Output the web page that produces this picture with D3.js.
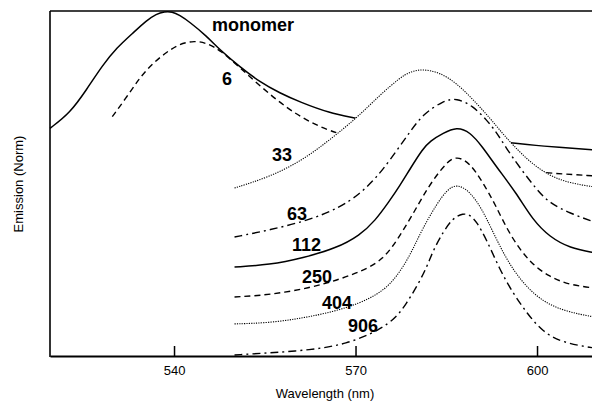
<!DOCTYPE html>
<html>
<head>
<meta charset="utf-8">
<script src="https://cdn.jsdelivr.net/npm/d3@7"></script>
<style>
body{margin:0;background:#fff}
svg{display:block}
.lbl{font-family:"Liberation Sans",Arial,sans-serif;font-weight:bold;font-size:18px}
.tick{font-family:"Liberation Sans",Arial,sans-serif;font-size:13px}
</style>
</head>
<body>
<svg></svg>
<script>
// wavelength (nm), emission (normalized, stacked as drawn)
var monomer=[[519.5,0.66],[522.8,0.704],[525.5,0.771],[528.2,0.843],[530.5,0.893],[533.2,0.936],[535.4,0.972],[537.1,0.992],
 [538.4,0.998],[539.7,0.998],[540.9,0.988],[542.6,0.968],[545.4,0.927],[547.6,0.887],[550.9,0.838],[554.2,0.794],[557.5,0.762],
 [560.8,0.736],[565.7,0.704],[569.9,0.69],[577.3,0.661],[585.6,0.638],[596,0.617],[600.4,0.609],[609.5,0.597]]
var s6=[[529.8,0.694],[532.2,0.751],[534.3,0.806],[536.5,0.849],[538.8,0.881],[540.9,0.905],[543.4,0.914],[545.4,0.907],[547.6,0.887],
 [550.9,0.836],[554.7,0.775],[558.6,0.719],[562.4,0.678],[566.5,0.646],[577.3,0.597],[585.6,0.562],[593.9,0.542],[602.1,0.53],[609.5,0.522]]
var s33=[[550,0.487],[555.8,0.519],[561.3,0.568],[565.7,0.626],[570.2,0.69],[574,0.756],[577.3,0.806],[579,0.824],[581.1,0.832],
 [583.9,0.822],[586.7,0.791],[589.4,0.744],[592.2,0.69],[594.3,0.645],[596,0.612],[598.8,0.562],[602.1,0.522],[605.4,0.501],[609.5,0.49]]
var s63=[[550,0.345],[555.8,0.365],[562.4,0.394],[567.4,0.43],[570.7,0.47],[572.9,0.508],[574.5,0.54],[576.8,0.595],[579,0.65],
 [581.1,0.7],[584.5,0.74],[586.7,0.748],[589.4,0.725],[591.7,0.684],[593.4,0.646],[595,0.6],[597.2,0.545],[600,0.481],
 [602.1,0.443],[605.4,0.414],[609.5,0.388]]
var s112=[[550,0.258],[555.8,0.264],[561.3,0.284],[566.9,0.313],[570.7,0.35],[573.2,0.391],[575.6,0.449],[577.3,0.493],[579,0.542],
 [581.1,0.6],[582.3,0.623],[584.5,0.646],[586.7,0.664],[588.9,0.65],[591,0.606],[593.3,0.548],[596.6,0.472],[599.3,0.394],[602.1,0.345],
 [605.4,0.313],[609.5,0.299]]
var s250=[[550,0.171],[555.8,0.177],[562.4,0.197],[567.4,0.222],[572.3,0.255],[574.5,0.283],[576.1,0.316],[577.8,0.362],[579.5,0.412],
 [581.1,0.462],[582.8,0.51],[585.1,0.562],[586.7,0.58],[588.9,0.56],[591,0.504],[593,0.443],[595.5,0.35],[598.8,0.27],
 [602.1,0.229],[605.4,0.206],[609.5,0.197]]
var s404=[[550,0.093],[555.8,0.096],[561.3,0.11],[566.3,0.128],[570.7,0.153],[573.5,0.178],[575.6,0.205],[577.8,0.255],[579.5,0.31],
 [581.1,0.37],[583.4,0.44],[585.1,0.481],[586.7,0.499],[588.9,0.478],[591,0.423],[592.7,0.36],[595,0.278],[597.6,0.212],
 [600.9,0.157],[604.9,0.128],[609.5,0.113]]
var s906=[[550,0.003],[555.8,0.009],[562.4,0.017],[568.5,0.034],[574,0.075],[576.8,0.113],[578.4,0.152],[580.1,0.2],[581.8,0.258],
 [582.8,0.305],[584.5,0.36],[586.1,0.4],[587.8,0.414],[588.9,0.409],[590,0.39],[591.7,0.336],[593.8,0.252],[596,0.183],
 [598.3,0.125],[600.9,0.07],[604.3,0.038],[609.5,0.023]]

var xTicks=[540,570,600]
var labels=[{t:"monomer",x:212,y:31},{t:"6",x:222,y:85},{t:"33",x:272,y:161},{t:"63",x:287,y:220},
 {t:"112",x:292,y:251},{t:"250",x:302,y:283},{t:"404",x:322,y:309},{t:"906",x:348,y:332}]

var width=592, height=402
var svg=d3.select("svg").attr("width",width).attr("height",height)

var xScale=d3.scaleLinear().domain([519.5,609.5]).range([50,594.5])
var yScale=d3.scaleLinear().domain([0,1]).range([356,11])

var line=d3.line()
    .x(function(d){return xScale(d[0])})
    .y(function(d){return yScale(d[1])})
    .curve(d3.curveBasis)

var area=d3.area()
    .x(function(d){return xScale(d[0])})
    .y0(yScale(0))
    .y1(function(d){return yScale(d[1])})
    .curve(d3.curveBasis)

var drawLine=function(data,dash,w){
    svg.append("path")
        .attr("d",line(data))
        .attr("fill","none")
        .attr("stroke","#000")
        .attr("stroke-width",w)
        .attr("stroke-dasharray",dash)
}

drawLine(monomer,null,1.5)
drawLine(s6,"6,4",1.4)

// the 33 curve hides what lies below it
svg.append("path")
    .attr("d",area(s33))
    .attr("fill","#fff")
drawLine(s33,"1.2,1.2",1.1)
drawLine(s63,"8,4,2,4",1.4)
drawLine(s112,null,1.5)
drawLine(s250,"6,4",1.4)
drawLine(s404,"1.2,1.2",1.1)
drawLine(s906,"8,4,2,4",1.4)

svg.selectAll(".lbl")
    .data(labels)
    .enter()
    .append("text")
    .attr("class","lbl")
    .attr("x",function(d){return d.x})
    .attr("y",function(d){return d.y})
    .text(function(d){return d.t})

// frame
svg.append("line").attr("x1",50).attr("x2",50).attr("y1",11).attr("y2",357)
    .attr("stroke","#000").attr("stroke-width",1.6)
svg.append("line").attr("x1",50).attr("x2",592).attr("y1",11).attr("y2",11)
    .attr("stroke","#000").attr("stroke-width",1.4)

var xAxis=d3.axisBottom(xScale).tickValues(xTicks).tickSize(-10).tickPadding(10).tickSizeOuter(0)
var gx=svg.append("g")
    .attr("transform","translate(0,356)")
    .call(xAxis)
gx.select(".domain").attr("stroke-width",2)
gx.selectAll(".tick line").attr("stroke-width",1.5)
gx.selectAll(".tick text")
    .attr("class","tick")
    .attr("fill","#000")
    .attr("font-family","Liberation Sans, Arial, sans-serif")
    .attr("font-size",13)

svg.append("text")
    .attr("class","tick")
    .attr("x",325)
    .attr("y",398)
    .attr("text-anchor","middle")
    .text("Wavelength (nm)")

svg.append("text")
    .attr("class","tick")
    .attr("transform","translate(23,184) rotate(-90)")
    .attr("text-anchor","middle")
    .text("Emission (Norm)")
</script>
</body>
</html>
